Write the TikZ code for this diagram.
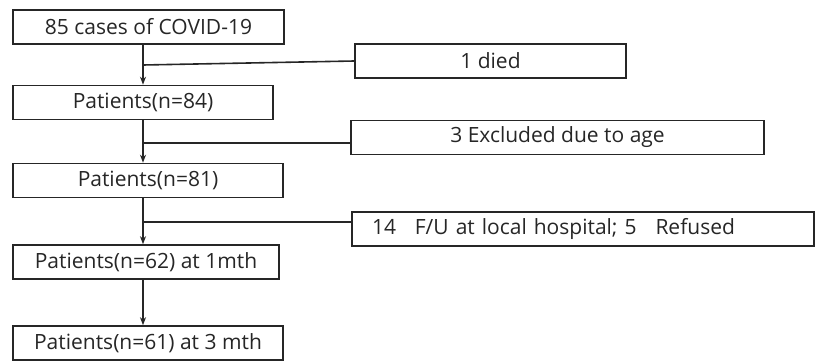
\documentclass[tikz,border=0pt]{standalone}
\usepackage{fontspec}
\setmainfont{Open Sans}
\usetikzlibrary{arrows.meta}
\begin{document}
\begin{tikzpicture}[x=1pt,y=-1pt,
  box/.style={draw=black!85,line width=1.6pt,minimum height=34pt,inner sep=0pt,font=\fontsize{21}{24}\selectfont,text=black!85},
  flow/.style={line width=1.6pt,draw=black!85,-{Stealth[length=8pt,width=6pt]}},
  side/.style={line width=1.6pt,draw=black!85}]
\useasboundingbox (0,0) rectangle (819,361);
\node[box,minimum width=271pt] (b1) at (148.5,27) {85 cases of COVID-19};
\node[box,minimum width=260pt] (b2) at (143,102.5) {Patients(n=84)};
\node[box,minimum width=270pt] (b3) at (148,180.5) {Patients(n=81)};
\node[box,minimum width=266pt] (b4) at (146,262) {Patients(n=62) at 1mth};
\node[box,minimum width=270pt] (b5) at (148,343) {Patients(n=61) at 3 mth};
\node[box,minimum width=271pt] (r1) at (490.5,61) {1 died};
\node[box,minimum width=413pt] (r2) at (557.5,137.5) {3 Excluded due to age};
\node[box,minimum width=462pt,text width=422pt,align=left] (r3) at (583,229) {14\hspace{0.9em}F/U at local hospital; 5\hspace{0.9em}Refused};
\coordinate (s) at (143,0);
\draw[flow] (b1.south -| s) -- (b2.north -| s);
\draw[flow] (b2.south -| s) -- (b3.north -| s);
\draw[flow] (b3.south -| s) -- (b4.north -| s);
\draw[flow] (b4.south -| s) -- (b5.north -| s);
\coordinate (j1) at (143,65);
\draw[side] (j1) -- (r1.west);
\coordinate (j2) at (143,143);
\draw[side] (j2) -- (j2 -| r2.west);
\coordinate (j3) at (143,222);
\draw[side] (j3) -- (j3 -| r3.west);
\end{tikzpicture}
\end{document}
